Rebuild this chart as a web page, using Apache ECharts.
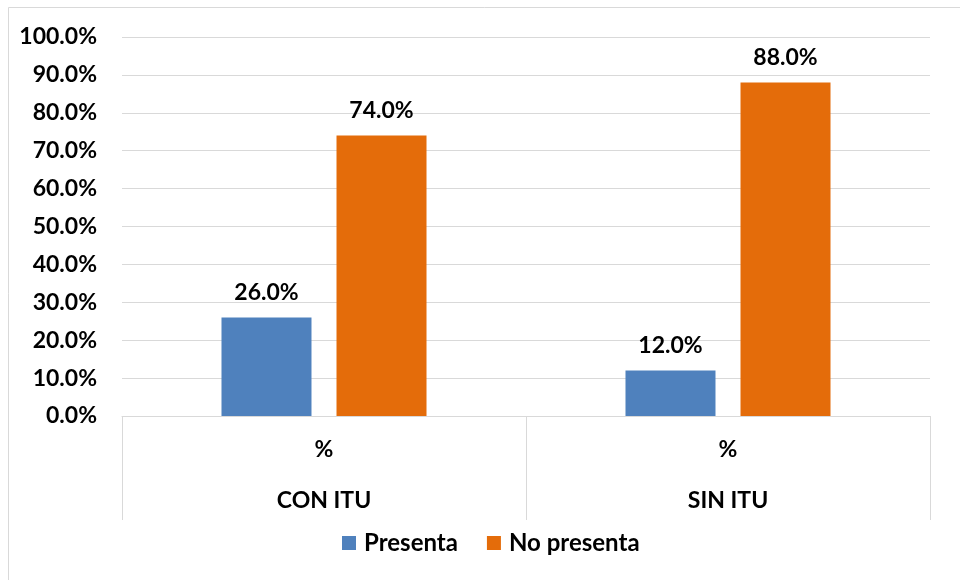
<!DOCTYPE html>
<html>
<head>
<meta charset="utf-8">
<script src="https://cdn.jsdelivr.net/npm/echarts@6/dist/echarts.min.js"></script>
<style>
  html, body { margin: 0; padding: 0; background: #fff; }
  #chart { width: 960px; height: 580px; }
</style>
</head>
<body>
<div id="chart"></div>
<script>
// Categories and the sub-level label shown under each group
const categories = ['CON ITU', 'SIN ITU'];
const subLabel = '%';
// Series values (percent)
const presenta = [26.0, 12.0];
const noPresenta = [74.0, 88.0];
const seriesNames = ['Presenta', 'No presenta'];

const FONT = 'Lato, "Open Sans", sans-serif';
const GRID = '#D9D9D9';

const chart = echarts.init(document.getElementById('chart'));

const labelStyle = {
  show: true,
  position: 'top',
  distance: 13,
  fontFamily: FONT,
  fontWeight: 'bold',
  fontSize: 23,
  color: '#000',
  formatter: p => p.value.toFixed(1) + '%'
};

chart.setOption({
  animation: false,
  backgroundColor: '#fff',
  graphic: [
    { type: 'line', shape: { x1: 8.5, y1: 7.5, x2: 960, y2: 7.5 }, style: { stroke: GRID, lineWidth: 1 } },
    { type: 'line', shape: { x1: 8.5, y1: 7.5, x2: 8.5, y2: 580 }, style: { stroke: GRID, lineWidth: 1 } }
  ],
  grid: { left: 122, right: 30, top: 37, height: 379, containLabel: false },
  legend: {
    data: seriesNames,
    bottom: 20,
    left: 337,
    itemWidth: 14,
    itemHeight: 14,
    itemGap: 29,
    icon: 'rect',
    textStyle: { fontFamily: FONT, fontWeight: 'bold', fontSize: 24, color: '#000', padding: [0, 0, 0, 3] }
  },
  xAxis: {
    type: 'category',
    data: categories,
    axisLine: { lineStyle: { color: GRID, width: 1 } },
    axisTick: { show: true, alignWithLabel: false, interval: 0, length: 104, lineStyle: { color: GRID, width: 1 } },
    axisLabel: {
      interval: 0,
      margin: 8,
      formatter: v => '{a|' + subLabel + '}\n{b|' + v + '}',
      rich: {
        a: { fontFamily: FONT, fontWeight: 'bold', fontSize: 23, color: '#000', lineHeight: 51 },
        b: { fontFamily: FONT, fontWeight: 'bold', fontSize: 23, color: '#000', lineHeight: 51 }
      }
    }
  },
  yAxis: {
    type: 'value',
    min: 0,
    max: 100,
    interval: 10,
    axisLine: { show: false },
    axisTick: { show: false },
    splitLine: { lineStyle: { color: GRID, width: 1 } },
    axisLabel: {
      margin: 25,
      fontFamily: FONT,
      fontWeight: 'bold',
      fontSize: 23,
      color: '#000',
      formatter: v => v.toFixed(1) + '%'
    }
  },
  series: [
    {
      name: seriesNames[0],
      type: 'bar',
      data: presenta,
      barWidth: 90,
      barGap: '27.8%',
      itemStyle: { color: '#4F81BD' },
      label: labelStyle
    },
    {
      name: seriesNames[1],
      type: 'bar',
      data: noPresenta,
      barWidth: 90,
      barGap: '27.8%',
      itemStyle: { color: '#E46C0A' },
      label: labelStyle
    }
  ]
});
</script>
</body>
</html>
